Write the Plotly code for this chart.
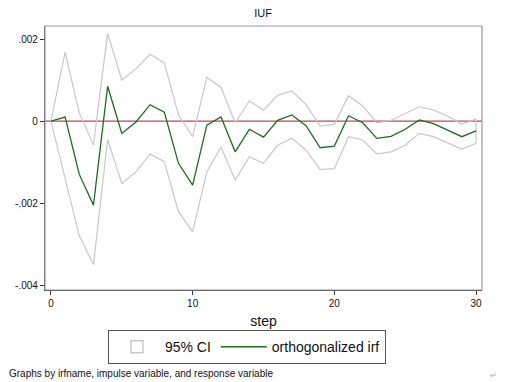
import plotly.graph_objects as go

steps = list(range(31))
irf = [0, 0.0001, -0.0013, -0.00205, 0.00085, -0.0003, -0.00002, 0.0004, 0.00022, -0.00103,
       -0.00156, -0.0001, 0.0001, -0.00075, -0.0002, -0.00039, 0.00002, 0.00015, -0.00011, -0.00065,
       -0.00061, 0.00013, -0.00004, -0.00042, -0.00037, -0.0002, 0.00003, -0.00006, -0.00022, -0.00038,
       -0.00024]
upper = [0, 0.00168, 0.0002, -0.00058, 0.00214, 0.001, 0.00128, 0.00163, 0.00142, 0.00015,
         -0.00038, 0.00107, 0.00082, -0.00004, 0.00049, 0.00027, 0.00063, 0.00073, 0.00041, -0.00012,
         -0.00008, 0.00062, 0.00037, -0.00004, 0.00002, 0.00019, 0.00035, 0.00027, 0.00012, -0.00007,
         0.00005]
lower = [0, -0.0014, -0.0028, -0.0035, -0.00045, -0.00152, -0.00124, -0.0008, -0.00099, -0.00221,
         -0.0027, -0.00124, -0.00063, -0.00144, -0.00087, -0.00103, -0.00059, -0.00042, -0.00071, -0.00118,
         -0.00116, -0.00038, -0.00046, -0.0008, -0.00075, -0.00059, -0.0003, -0.00038, -0.00053, -0.00068,
         -0.00054]
ytick_vals = [-0.004, -0.002, 0, 0.002]
ytick_text = ["-.004", "-.002", "0", ".002"]
xtick_vals = [0, 10, 20, 30]

FONT = "Liberation Sans, Arial, sans-serif"
CI_COLOR = "#c8c8c8"

fig = go.Figure()
fig.add_trace(go.Scatter(
    x=steps + steps[::-1], y=upper + lower[::-1],
    mode="lines", fill="toself", fillcolor="rgba(255,255,255,0)",
    line=dict(color=CI_COLOR, width=1.2), name="95% CI", showlegend=False))
# legend stand-in for the CI area (rectangle symbol)
fig.add_trace(go.Bar(
    x=[None], y=[None], name="95% CI",
    marker=dict(color="white", line=dict(color=CI_COLOR, width=1.5))))
fig.add_trace(go.Scatter(
    x=steps, y=irf, mode="lines",
    line=dict(color="#1e6b1e", width=1.3), name="orthogonalized irf"))

fig.add_hline(y=0, line=dict(color="#c0455f", width=1.2), layer="below")

fig.add_shape(type="rect", xref="paper", yref="paper", x0=0, x1=1, y0=0, y1=1,
              line=dict(color="#999999", width=1.2), layer="above")

fig.update_layout(
    width=505, height=382,
    margin=dict(l=45, r=23, t=26, b=92, autoexpand=False),
    paper_bgcolor="white", plot_bgcolor="white",
    font=dict(family=FONT, color="#111111"),
    title=dict(text="IUF", x=0.521, xanchor="center", y=0.965, yanchor="middle",
               font=dict(size=11, family=FONT)),
    showlegend=True,
    legend=dict(orientation="h", x=0.462, xanchor="center", y=-0.152, yanchor="top",
                bordercolor="#555555", borderwidth=1, bgcolor="white",
                font=dict(size=14, family=FONT), itemwidth=46,
                tracegroupgap=0),
    xaxis=dict(range=[-0.42, 30.42], tickvals=xtick_vals, ticks="outside", ticklen=4,
               tickcolor="#333333", showgrid=False, zeroline=False, showline=True,
               linecolor="#333333", linewidth=1.3, tickfont=dict(size=10, family=FONT),
               title=dict(text="step", font=dict(size=14, family=FONT), standoff=8)),
    yaxis=dict(range=[-0.00412, 0.00232], tickvals=ytick_vals, ticktext=ytick_text,
               ticks="outside", ticklen=4, tickcolor="#333333", showgrid=False,
               zeroline=False, showline=True, linecolor="#555555", linewidth=1.2,
               tickfont=dict(size=10, family=FONT)),
)

fig.add_annotation(text="Graphs by irfname, impulse variable, and response variable",
                   xref="paper", yref="paper", x=-0.087, y=-0.315, xanchor="left",
                   yanchor="middle", showarrow=False, font=dict(size=10, family=FONT))
fig.add_annotation(text="↵", xref="paper", yref="paper", x=1.014, y=-0.323,
                   xanchor="left", yanchor="middle", showarrow=False,
                   font=dict(size=8, color="#aaaaaa", family=FONT))

fig.write_html("out.html", config={"displayModeBar": False},
               post_script="document.body.style.margin='0';document.body.style.overflow='hidden';")
